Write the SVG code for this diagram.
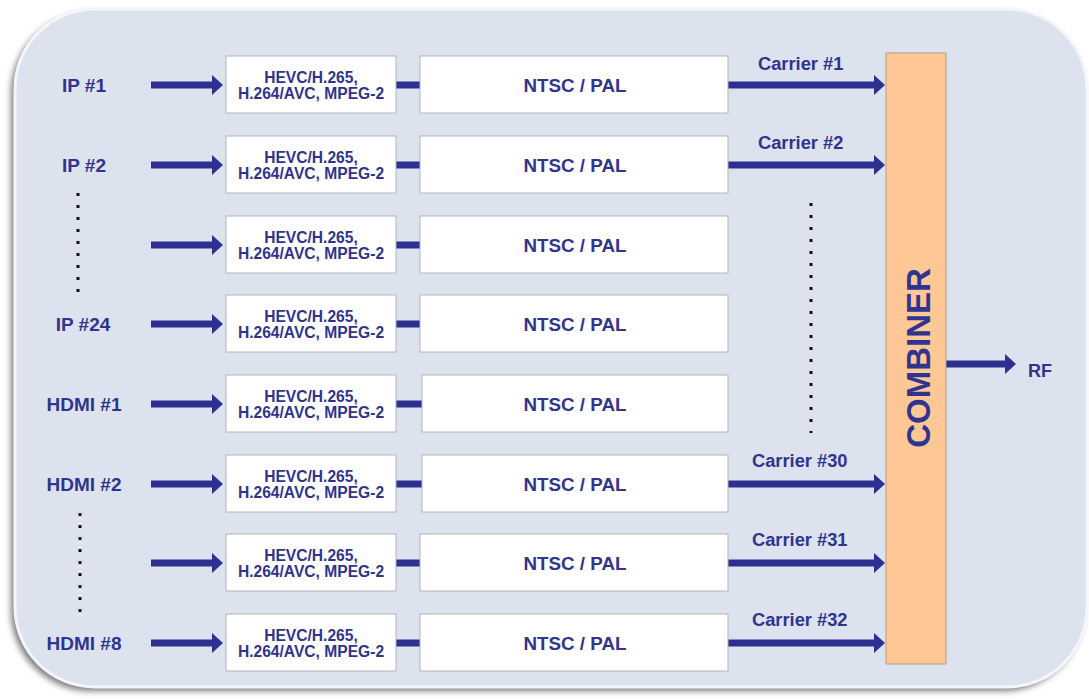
<svg xmlns="http://www.w3.org/2000/svg" width="1089" height="699" viewBox="0 0 1089 699">
<style>
text{font-family:"Liberation Sans",Arial,sans-serif;font-weight:bold;fill:#30348f}
.lbl{font-size:19px;text-anchor:middle}
.car{font-size:18.3px}
.enc rect,.mod rect{fill:#fff;stroke:#b4b4b4;stroke-width:1}
.enc text{font-size:15.6px;text-anchor:middle}
.mod text{font-size:18.8px;text-anchor:middle}
.ln{stroke:#2e3091;stroke-width:7;fill:none}
.ar{marker-end:url(#ah)}
.dot{stroke:#111;stroke-width:3;stroke-dasharray:3 9;fill:none}
</style>
<defs>
<marker id="ah" markerUnits="userSpaceOnUse" markerWidth="12" markerHeight="20" refX="1" refY="10" orient="auto">
<path d="M0,0 L11,10 L0,20 Z" fill="#2e3091"/>
</marker>
<filter id="sh" x="-5%" y="-5%" width="110%" height="110%">
<feGaussianBlur stdDeviation="3"/>
</filter>
</defs>
<rect width="1089" height="699" fill="#fff"/>
<g id="panel">
<rect x="11" y="13" width="1072" height="678" rx="80" fill="#7a7a80" filter="url(#sh)"/>
<rect x="15" y="9" width="1072" height="678" rx="80" fill="#dce2ee" stroke="#f4f6fb" stroke-width="3"/>
</g>
<g id="labels">
<text class="lbl" x="84" y="92">IP #1</text>
<text class="lbl" x="84" y="172">IP #2</text>
<text class="lbl" x="83" y="331">IP #24</text>
<text class="lbl" x="84" y="411">HDMI #1</text>
<text class="lbl" x="84" y="491">HDMI #2</text>
<text class="lbl" x="84" y="650">HDMI #8</text>
<text class="car" x="758" y="70">Carrier #1</text>
<text class="car" x="758" y="149">Carrier #2</text>
<text class="car" x="752" y="467">Carrier #30</text>
<text class="car" x="752" y="546">Carrier #31</text>
<text class="car" x="752" y="626">Carrier #32</text>
<text x="1028" y="377" style="font-size:18px">RF</text>
</g>
<g id="connectors">
<path class="ln ar" d="M151,85H213"/>
<path class="ln ar" d="M151,165H213"/>
<path class="ln ar" d="M151,245H213"/>
<path class="ln ar" d="M151,324H213"/>
<path class="ln ar" d="M151,404H213"/>
<path class="ln ar" d="M151,484H213"/>
<path class="ln ar" d="M151,563H213"/>
<path class="ln ar" d="M151,643H213"/>
<path class="ln" d="M396,85H420M396,165H420M396,245H420M396,324H420M396,404H422M396,484H422M396,563H420M396,643H420"/>
<path class="ln ar" d="M728,85H875"/>
<path class="ln ar" d="M728,165H875"/>
<path class="ln ar" d="M728,484H875"/>
<path class="ln ar" d="M728,563H875"/>
<path class="ln ar" d="M728,643H875"/>
<path class="ln ar" d="M946,364H1006"/>
<path class="dot" d="M78,193V296M80,513V615M811,203V433"/>
</g>
<g id="enc1" class="enc"><rect x="226" y="56" width="170" height="57"/><text x="311" y="83">HEVC/H.265,</text><text x="311" y="99">H.264/AVC, MPEG-2</text></g>
<g id="enc2" class="enc"><rect x="226" y="136" width="170" height="57"/><text x="311" y="163">HEVC/H.265,</text><text x="311" y="179">H.264/AVC, MPEG-2</text></g>
<g id="enc3" class="enc"><rect x="226" y="216" width="170" height="57"/><text x="311" y="243">HEVC/H.265,</text><text x="311" y="259">H.264/AVC, MPEG-2</text></g>
<g id="enc4" class="enc"><rect x="226" y="295" width="170" height="57"/><text x="311" y="322">HEVC/H.265,</text><text x="311" y="338">H.264/AVC, MPEG-2</text></g>
<g id="enc5" class="enc"><rect x="226" y="375" width="170" height="57"/><text x="311" y="402">HEVC/H.265,</text><text x="311" y="418">H.264/AVC, MPEG-2</text></g>
<g id="enc6" class="enc"><rect x="226" y="455" width="170" height="57"/><text x="311" y="482">HEVC/H.265,</text><text x="311" y="498">H.264/AVC, MPEG-2</text></g>
<g id="enc7" class="enc"><rect x="226" y="534" width="170" height="57"/><text x="311" y="561">HEVC/H.265,</text><text x="311" y="577">H.264/AVC, MPEG-2</text></g>
<g id="enc8" class="enc"><rect x="226" y="614" width="170" height="57"/><text x="311" y="641">HEVC/H.265,</text><text x="311" y="657">H.264/AVC, MPEG-2</text></g>
<g id="mod1" class="mod"><rect x="420" y="56" width="308" height="57"/><text x="575" y="92">NTSC / PAL</text></g>
<g id="mod2" class="mod"><rect x="420" y="136" width="308" height="57"/><text x="575" y="172">NTSC / PAL</text></g>
<g id="mod3" class="mod"><rect x="420" y="216" width="308" height="57"/><text x="575" y="252">NTSC / PAL</text></g>
<g id="mod4" class="mod"><rect x="420" y="295" width="308" height="57"/><text x="575" y="331">NTSC / PAL</text></g>
<g id="mod5" class="mod"><rect x="422" y="375" width="306" height="57"/><text x="575" y="411">NTSC / PAL</text></g>
<g id="mod6" class="mod"><rect x="422" y="455" width="306" height="57"/><text x="575" y="491">NTSC / PAL</text></g>
<g id="mod7" class="mod"><rect x="420" y="534" width="308" height="57"/><text x="575" y="570">NTSC / PAL</text></g>
<g id="mod8" class="mod"><rect x="420" y="614" width="308" height="57"/><text x="575" y="650">NTSC / PAL</text></g>
<g id="combiner">
<rect x="886" y="53" width="60" height="611" fill="#fec896" stroke="#b49c82" stroke-width="1"/>
<text transform="translate(930,358) rotate(-90)" style="font-size:33px;text-anchor:middle">COMBINER</text>
</g>
</svg>
